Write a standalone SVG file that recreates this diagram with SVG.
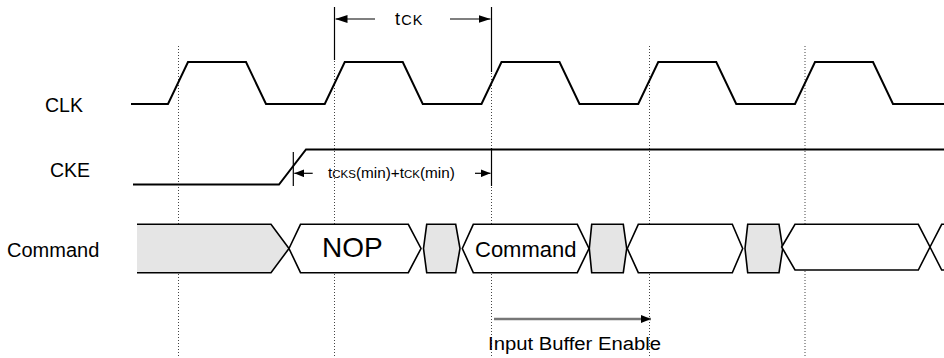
<svg xmlns="http://www.w3.org/2000/svg" width="944" height="358" viewBox="0 0 944 358">
<style>
.wave{fill:none;stroke:#000;stroke-width:2;stroke-linejoin:miter}
.bus{stroke:#000;stroke-width:1.6;stroke-linejoin:miter}
.gray{fill:#e5e5e5}
.white{fill:#fff}
.grid{stroke:#444;stroke-width:1;stroke-dasharray:1 2}
.tick{stroke:#000;stroke-width:1.2}
.dim{stroke:#000;stroke-width:1.2;fill:none}
.lbl{font-family:"Liberation Sans",Arial,sans-serif;fill:#000}
</style>
<defs>
<marker id="ah" viewBox="0 0 12 8" refX="12" refY="4" markerWidth="12" markerHeight="8" markerUnits="userSpaceOnUse" orient="auto-start-reverse">
<path d="M0,0 L12,4 L0,8 Z" fill="#000"/>
</marker>
<marker id="ahs" viewBox="0 0 10 8" refX="10" refY="4" markerWidth="10" markerHeight="8" markerUnits="userSpaceOnUse" orient="auto">
<path d="M0,0 L10,4 L0,8 Z" fill="#000"/>
</marker>
</defs>
<rect width="944" height="358" fill="#fff"/>

<g id="grid">
<line class="grid" x1="178.5" y1="46" x2="178.5" y2="356"/>
<line class="grid" x1="334.5" y1="46" x2="334.5" y2="356"/>
<line class="grid" x1="491.5" y1="46" x2="491.5" y2="356"/>
<line class="grid" x1="649.5" y1="46" x2="649.5" y2="356"/>
<line class="grid" x1="805" y1="46" x2="805" y2="356"/>
</g>

<g id="labels">
<text class="lbl" x="45" y="112" font-size="19.5">CLK</text>
<text class="lbl" x="50" y="177" font-size="19.5">CKE</text>
<text class="lbl" x="7" y="257" font-size="20">Command</text>
</g>

<g id="clk">
<path class="wave" d="M131,104 L168,104 L188,62 L246,62 L266,104 L324.75,104 L344.75,62 L402.75,62 L422.75,104 L481.5,104 L501.5,62 L559.5,62 L579.5,104 L638.25,104 L658.25,62 L716.25,62 L736.25,104 L795,104 L815,62 L873,62 L893,104 L944,104"/>
</g>

<g id="cke">
<path class="wave" d="M133,184.5 L279,184.5 L306,149.5 L944,149.5"/>
</g>

<g id="command-bus">
<g id="seg-initial">
<path class="gray" d="M137,224.3 L271,224.3 L289,248.5 L271,272.7 L137,272.7 Z"/>
<path class="bus" fill="none" d="M137,224.3 L271,224.3 L289,248.5 L271,272.7 L137,272.7"/>
</g>
<g id="seg-nop">
<path class="bus white" d="M289,248.5 L300.5,224.3 L408.3,224.3 L421,248.5 L408.3,272.7 L300.5,272.7 Z"/>
<text class="lbl" x="322" y="257.3" font-size="28">NOP</text>
</g>
<g id="seg-gap1">
<path class="bus gray" d="M426.7,224.3 L455.7,224.3 L460,248.5 L455.7,272.7 L426.7,272.7 L423.5,248.5 Z"/>
</g>
<g id="seg-command">
<path class="bus white" d="M462.3,248.5 L473.3,224.3 L577.3,224.3 L589,248.5 L577.3,272.7 L473.3,272.7 Z"/>
<text class="lbl" x="475" y="257.3" font-size="22">Command</text>
</g>
<g id="seg-gap2">
<path class="bus gray" d="M591.7,224.3 L623.3,224.3 L626.7,248.5 L623.3,272.7 L591.7,272.7 L589.3,248.5 Z"/>
</g>
<g id="seg-data3">
<path class="bus white" d="M627.3,248.5 L638.3,224.3 L732.3,224.3 L742.7,248.5 L732.3,272.7 L638.3,272.7 Z"/>
</g>
<g id="seg-gap3">
<path class="bus gray" d="M747.7,224.3 L779,224.3 L782.7,248.5 L779,272.7 L747.7,272.7 L745,248.5 Z"/>
</g>
<g id="seg-data4">
<path class="bus white" d="M781.7,247 L795,224.3 L918.3,224.3 L930,247 L918.3,270 L795,270 Z"/>
<path class="bus" fill="none" d="M930,247 L941.7,224.3 L944,224.3 M930,247 L941.7,270 L944,270"/>
</g>
</g>

<g id="connectors">
<line class="tick" x1="334.5" y1="7" x2="334.5" y2="60"/>
<line class="tick" x1="491.5" y1="7" x2="491.5" y2="72"/>
<line class="tick" x1="491.5" y1="148" x2="491.5" y2="186"/>
<line class="tick" x1="293.3" y1="152" x2="293.3" y2="186"/>
<line class="dim" x1="375" y1="19" x2="335.5" y2="19" marker-end="url(#ah)"/>
<line class="dim" x1="450" y1="19" x2="490.5" y2="19" marker-end="url(#ah)"/>
<line class="dim" x1="312.7" y1="173.3" x2="294.3" y2="173.3" marker-end="url(#ahs)"/>
<line class="dim" x1="475" y1="173.3" x2="490.5" y2="173.3" marker-end="url(#ahs)"/>
<line x1="494" y1="319" x2="651" y2="319" stroke="#777" stroke-width="2.5" marker-end="url(#ahs)"/>
</g>

<g id="annotations">
<text class="lbl" x="395" y="25" font-size="18" letter-spacing="1.2">t<tspan font-size="14.5">CK</tspan></text>
<text class="lbl" x="328" y="177.5" font-size="15.3">t<tspan font-size="11.5">CKS</tspan>(min)+t<tspan font-size="11.5">CK</tspan>(min)</text>
<text class="lbl" x="488" y="350" font-size="18" textLength="173" lengthAdjust="spacingAndGlyphs">Input Buffer Enable</text>
</g>
</svg>
